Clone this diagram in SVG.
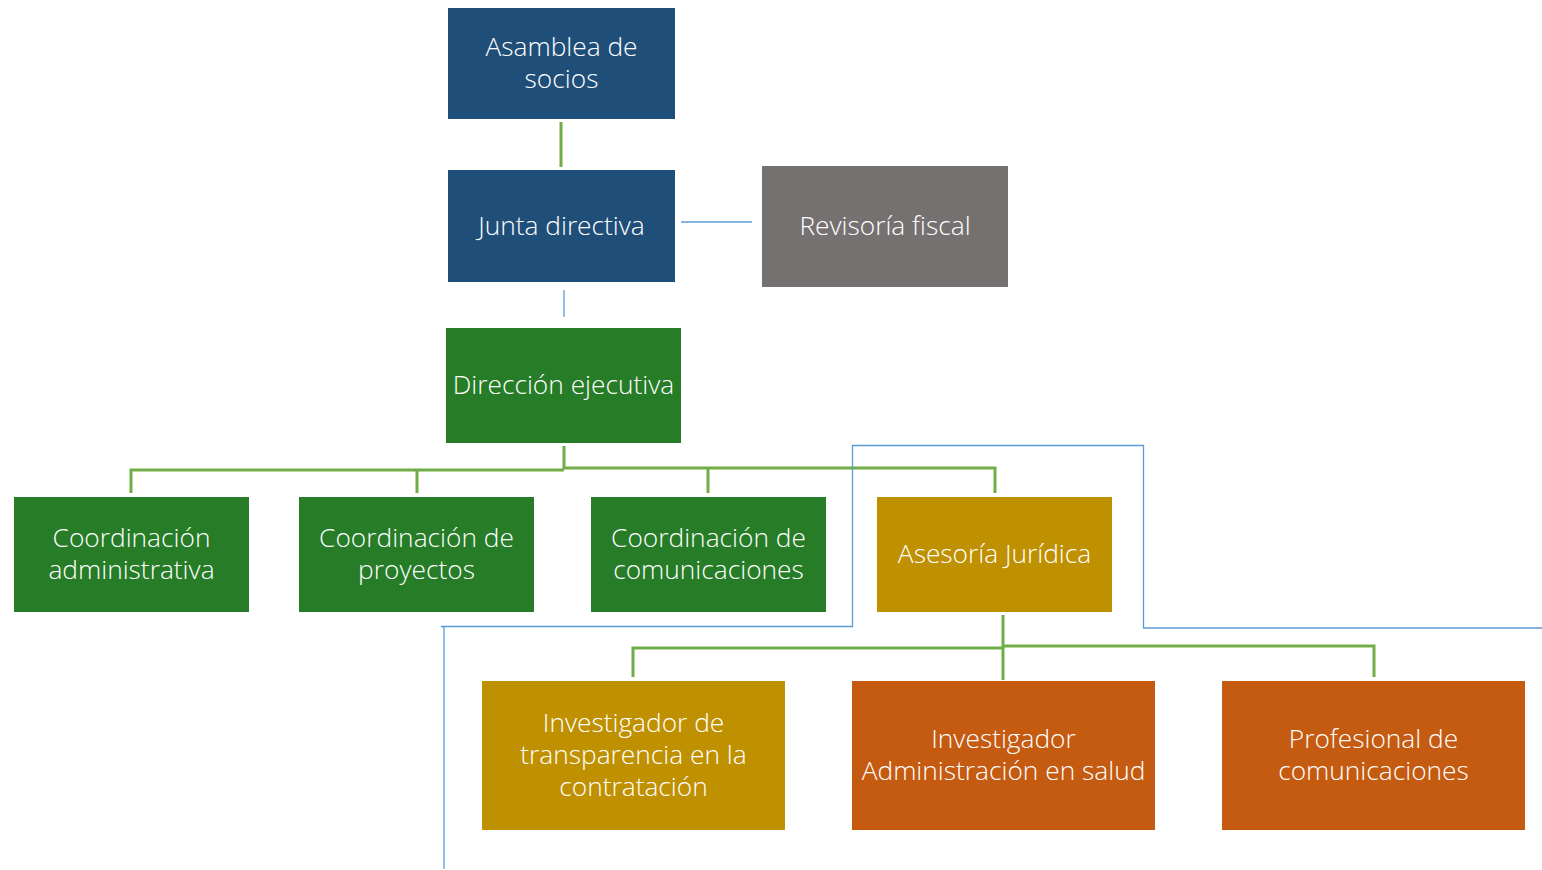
<svg xmlns="http://www.w3.org/2000/svg" width="1542" height="870" viewBox="0 0 1542 870">
<style>
.t{font-family:"Open Sans","Liberation Sans",sans-serif;font-size:26.3px;font-weight:300;fill:#fff;text-anchor:middle}
.g{stroke:#70AD47;stroke-width:3;fill:none}
.b{stroke:#5B9BD5;stroke-width:1.3;fill:none}
.navy{fill:#1F4E79}
.grey{fill:#767171}
.green{fill:#267C27}
.gold{fill:#BF9000}
.orange{fill:#C55A11}
</style>
<rect width="1542" height="870" fill="#fff"/>
<g id="connectors">
<line class="g" x1="561" y1="122" x2="561" y2="167"/>
<line class="b" x1="681" y1="222" x2="752" y2="222"/>
<line class="b" x1="564" y1="290" x2="564" y2="317"/>
<path class="g" d="M564 446V469M131 493V470H564M564 468H995V493M417 470V493M708 468V493"/>
<path class="g" d="M1003 615V680M633 677V648H1003M1003 646H1374V677"/>
<path class="b" d="M444 869V627M441 626.5H852.5V445.5H1143.5V628H1542"/>
</g>
<g id="asamblea"><rect class="navy" x="448" y="8" width="227" height="111"/><text class="t" x="561.5" y="56">Asamblea de</text><text class="t" x="561.5" y="88">socios</text></g>
<g id="junta"><rect class="navy" x="448" y="170" width="227" height="112"/><text class="t" x="561.5" y="235">Junta directiva</text></g>
<g id="revisoria"><rect class="grey" x="762" y="166" width="246" height="121"/><text class="t" x="885" y="235">Revisoría fiscal</text></g>
<g id="direccion"><rect class="green" x="446" y="328" width="235" height="115"/><text class="t" x="563.5" y="394">Dirección ejecutiva</text></g>
<g id="coord-admin"><rect class="green" x="14" y="497" width="235" height="115"/><text class="t" x="131.5" y="547">Coordinación</text><text class="t" x="131.5" y="579">administrativa</text></g>
<g id="coord-proy"><rect class="green" x="299" y="497" width="235" height="115"/><text class="t" x="416.5" y="547">Coordinación de</text><text class="t" x="416.5" y="579">proyectos</text></g>
<g id="coord-com"><rect class="green" x="591" y="497" width="235" height="115"/><text class="t" x="708.5" y="547">Coordinación de</text><text class="t" x="708.5" y="579">comunicaciones</text></g>
<g id="asesoria"><rect class="gold" x="877" y="497" width="235" height="115"/><text class="t" x="994.5" y="563">Asesoría Jurídica</text></g>
<g id="inv-trans"><rect class="gold" x="482" y="681" width="303" height="149"/><text class="t" x="633.5" y="732">Investigador de</text><text class="t" x="633.5" y="764">transparencia en la</text><text class="t" x="633.5" y="796">contratación</text></g>
<g id="inv-admin"><rect class="orange" x="852" y="681" width="303" height="149"/><text class="t" x="1003.5" y="748">Investigador</text><text class="t" x="1003.5" y="780">Administración en salud</text></g>
<g id="prof-com"><rect class="orange" x="1222" y="681" width="303" height="149"/><text class="t" x="1373.5" y="748">Profesional de</text><text class="t" x="1373.5" y="780">comunicaciones</text></g>
</svg>
